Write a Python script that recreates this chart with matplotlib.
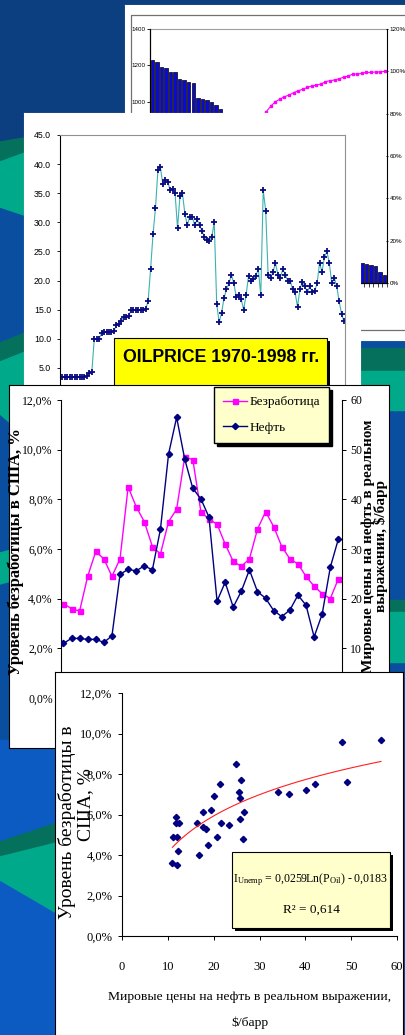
import numpy as np
import matplotlib.pyplot as plt
from matplotlib.patches import Rectangle, Polygon
from matplotlib.transforms import Affine2D

plt.rcParams['font.family'] = ['Liberation Serif', 'DejaVu Serif']
plt.rcParams['mathtext.fontset'] = 'custom'
plt.rcParams['mathtext.rm'] = 'Liberation Serif'
plt.rcParams['mathtext.it'] = 'Liberation Serif:italic'

# --- data -------------------------------------------------------------
# Pareto chart (back panel): bar heights and cumulative share, %
pareto_bars = [1229, 1216, 1192, 1187, 1165, 1161, 1122, 1119, 1106, 1104, 1018, 1014, 1008,
               995, 980, 960, 930, 905, 880, 850, 820, 790, 760, 720, 690, 660, 620, 590, 560,
               520, 490, 450, 420, 390, 360, 330, 300, 280, 260, 240, 220, 200, 180, 160, 140, 125,
               108, 106, 98, 96, 62, 45]
pareto_cum = [4.5, 9.0, 13.3, 17.5, 21.5, 25.4, 29.0, 32.5, 35.9, 39.2, 42.3, 45.3, 48.2,
              51.0, 53.7, 56.3, 58.8, 61.2, 63.6, 66.0, 68.4, 70.8, 73.2, 75.6, 78.2,
              80.9, 83.6, 85.6, 86.9, 88.0, 88.8, 89.9, 90.8, 91.5, 92.4, 93.1, 93.5, 94.0,
              95.1, 95.6, 95.9, 96.5, 97.2, 97.8, 98.7, 98.7, 99.1, 99.5, 99.5, 99.7, 99.7, 100.0]

# Oil price 1970-1998, quarterly, $/bbl
oil_quarterly = [3.4, 3.4, 3.5, 3.5, 3.5, 3.5, 3.5, 3.5, 3.5, 3.5, 3.5, 3.6, 4.2, 4.3,
                 10.0, 10.0, 10.0, 11.0, 11.1, 11.2, 11.2, 11.2, 11.3, 12.3, 12.5, 13.0, 13.8,
                 13.8, 13.9, 14.9, 14.9, 15.0, 15.0, 15.0, 15.0, 15.1,
                 16.5, 22.0, 28.0, 32.5, 39.0, 39.5, 36.5, 37.2, 37.0, 35.5, 35.8, 35.0, 29.0,
                 34.5, 35.0, 31.5, 29.5, 31.0, 31.0, 29.5, 30.5, 29.5, 28.5, 27.5, 27.0, 26.8,
                 27.5, 30.0,
                 16.0, 12.8, 14.5, 17.0, 18.5, 19.5, 21.0, 19.5, 17.2, 17.5, 16.8, 15.0, 17.5,
                 20.8, 20.0, 20.3, 20.8, 22.0, 17.5, 35.5, 32.0, 21.0, 20.5, 21.5, 23.0, 21.0,
                 20.5, 22.0, 21.0, 20.0, 20.0, 18.5, 18.0, 15.5, 18.5, 19.8, 19.0, 18.0, 19.0,
                 18.0, 18.2, 19.5, 23.0, 21.5, 24.0, 25.0, 23.0, 19.5, 20.5, 19.0, 16.5, 14.2, 13.0]

# US unemployment and real oil price, 1967-2001
years = list(range(1967, 2002))
unemployment = [3.8, 3.6, 3.5, 4.9, 5.9, 5.6, 4.9, 5.6, 8.5, 7.7, 7.1, 6.1, 5.8, 7.1, 7.6,
                9.7, 9.6, 7.5, 7.2, 7.0, 6.2, 5.5, 5.3, 5.6, 6.8, 7.5, 6.9, 6.1, 5.6, 5.4,
                4.9, 4.5, 4.2, 4.0, 4.8]
oil_real = [11.0, 12.0, 12.0, 11.8, 11.8, 11.2, 12.5, 24.9, 25.9, 25.6, 26.6, 25.8, 34.0,
            49.1, 56.5, 48.1, 42.2, 40.1, 36.4, 19.5, 23.3, 18.3, 21.5, 25.8, 21.4, 20.1,
            17.6, 16.4, 17.7, 20.7, 18.7, 12.3, 16.9, 26.3, 32.0]

W, H = 405, 1035
fig = plt.figure(figsize=(W / 100, H / 100), dpi=100)
pix = Affine2D().scale(1 / W, -1 / H).translate(0, 1) + fig.transFigure


def box(x0, y0, x1, y1):
    return [x0 / W, 1 - y1 / H, (x1 - x0) / W, (y1 - y0) / H]


def panel(x0, y0, x1, y1, z, edge):
    a = fig.add_axes(box(x0, y0, x1, y1), zorder=z)
    a.set_xticks([])
    a.set_yticks([])
    for s in a.spines.values():
        s.set_edgecolor(edge)
        s.set_linewidth(0.8)
    return a


# --- slide background -------------------------------------------------
bg = fig.add_axes([0, 0, 1, 1], zorder=0)
bg.axis('off')
teal, dkgreen = '#00A98A', '#05705B'
bg.add_patch(Rectangle((0, 0), W, H, color='#0A4F9F', transform=pix))
bg.add_patch(Rectangle((0, 0), W, 140, color='#0B3F80', transform=pix))
bg.add_patch(Rectangle((0, 740), 60, 300, color='#0B5BC3', transform=pix))
for pts, c in [
    ([(0, 142), (30, 137), (30, 151), (0, 162)], dkgreen),
    ([(0, 162), (30, 151), (30, 217), (0, 207)], teal),
    ([(0, 343), (30, 331), (30, 350), (0, 362)], dkgreen),
    ([(0, 362), (30, 350), (30, 440), (0, 414)], teal),
    ([(0, 553), (15, 549), (15, 580), (0, 584)], teal),
    ([(355, 348), (405, 348), (405, 371), (355, 371)], dkgreen),
    ([(355, 371), (405, 371), (405, 410), (355, 410)], teal),
    ([(380, 600), (405, 600), (405, 612), (380, 612)], dkgreen),
    ([(380, 612), (405, 612), (405, 662), (380, 662)], teal),
    ([(0, 842), (60, 822), (60, 842), (0, 857)], dkgreen),
    ([(0, 857), (60, 842), (60, 915), (0, 880)], teal),
]:
    bg.add_patch(Polygon(pts, closed=True, color=c, transform=pix))

# --- panel 1: Pareto chart --------------------------------------------
pn1 = panel(125, 5, 420, 340, 1, 'white')
pn1.add_patch(Rectangle((131, 15), 300, 315, fill=False, ec='#707070', lw=0.9,
                        transform=pix, clip_on=False))
ax1 = fig.add_axes(box(150, 29, 387, 283), zorder=2)
idx = np.arange(len(pareto_bars))
ax1.bar(idx, pareto_bars, width=0.75, color='#0A0AD0', edgecolor='black', linewidth=0.5)
ax1.set_xlim(-0.5, len(pareto_bars) - 0.5)
ax1.set_ylim(0, 1400)
ax1.set_yticks(range(0, 1401, 200))
ax1.set_xticks(np.arange(-0.5, len(pareto_bars), 1.0))
ax1.set_xticklabels([])
ax1.tick_params(axis='x', length=3, width=0.5, direction='out')
ax1.tick_params(axis='y', labelsize=4.5, length=2, width=0.6, pad=1)
for lab in ax1.get_yticklabels():
    lab.set_family('Liberation Sans')
ax1.spines['top'].set_color('#A0A0A0')
ax1.spines['right'].set_visible(False)
ax1b = ax1.twinx()
ax1b.set_zorder(2.5)
ax1b.plot(idx, pareto_cum, color='#FF00FF', marker='s', ms=2, lw=0.8)
ax1b.set_ylim(0, 120)
ax1b.set_yticks(range(0, 121, 20))
ax1b.set_yticklabels([f'{v}%' for v in range(0, 121, 20)], family='Liberation Sans')
ax1b.tick_params(axis='y', labelsize=4.5, length=2, width=0.6, pad=1, direction='inout')
ax1b.spines['top'].set_visible(False)

# --- panel 2: oil price 1970-1998 -------------------------------------
pn2 = panel(24, 113, 360, 400, 3, 'white')
ax2 = fig.add_axes(box(60, 135, 345, 397), zorder=4)
t = 1970 + np.arange(len(oil_quarterly)) / 4
ax2.plot(t, oil_quarterly, color='#3BB3B0', lw=0.8, marker='+', ms=4.5, mew=1.3,
         mec='#0A0A80')
ax2.set_xlim(1970, 1999.1)
ax2.set_ylim(0, 45)
ax2.set_xticks([])
ax2.set_yticks(np.arange(0, 46, 5))
ax2.set_yticklabels([f'{v:.1f}' for v in range(0, 46, 5)], family='Liberation Sans')
ax2.tick_params(axis='y', labelsize=6.3, length=2.5, width=0.6, pad=4)
ax2.spines['top'].set_color('#909090')
ax2.spines['right'].set_color('#909090')
ax2.add_patch(Rectangle((117, 341), 213, 60, fc='black', transform=pix, clip_on=False))
ax2.add_patch(Rectangle((114, 338), 213, 60, fc='#FFFF00', ec='black', lw=0.8,
                        transform=pix, clip_on=False))
ax2.text(221, 357, 'OILPRICE 1970-1998 гг.', transform=pix, ha='center', va='center',
         fontsize=12.8, fontweight='bold', family='Liberation Sans', clip_on=False)

# --- panel 3: unemployment vs oil over time ---------------------------
pn3 = panel(9, 385, 389, 748, 5, 'black')
ax3 = fig.add_axes(box(61, 400, 342, 698), zorder=6)
xi = np.arange(len(years))
l1, = ax3.plot(xi, np.array(unemployment) / 100, color='#FF00FF', marker='s', ms=3.6, lw=1)
ax3.set_xlim(-0.3, len(years) - 0.55)
ax3.set_ylim(0, 0.12)
ax3.set_yticks(np.arange(0, 0.121, 0.02))
ax3.set_yticklabels([f'{v:.1f}%'.replace('.', ',') for v in np.arange(0, 12.1, 2)])
ax3.set_xticks([])
ax3.tick_params(axis='y', labelsize=8.5, length=3, width=0.7, pad=3)
for s in ['top', 'bottom', 'right']:
    ax3.spines[s].set_visible(False)
ax3b = ax3.twinx()
ax3b.set_zorder(6.5)
l2, = ax3b.plot(xi, oil_real, color='#000080', marker='D', ms=3.2, lw=1)
ax3b.set_ylim(0, 60)
ax3b.set_yticks(range(10, 61, 10))
ax3b.tick_params(axis='y', labelsize=8.5, length=3, width=0.7, pad=3)
for s in ['top', 'bottom', 'left']:
    ax3b.spines[s].set_visible(False)
ax3b.legend([l1, l2], ['Безработица', 'Нефть'], loc='upper left',
            bbox_to_anchor=(214, 387), bbox_transform=pix, borderaxespad=0,
            fancybox=False, shadow={'color': 'black', 'alpha': 1}, framealpha=1,
            facecolor='#FFFFCC', edgecolor='black', fontsize=9.5, handlelength=1.8,
            handletextpad=0.2, borderpad=0.7, labelspacing=1.0)
ax3.text(16, 552, 'Уровень безработицы в США, %', transform=pix, rotation=90,
         ha='center', va='center', fontsize=12, fontweight='bold', clip_on=False)
ax3b.text(375, 546, 'Мировые цены на нефть в реальном\nвыражении, $/барр', transform=pix,
          rotation=90, ha='center', va='center', fontsize=11, fontweight='bold',
          linespacing=0.95, multialignment='center', clip_on=False)

# --- panel 4: scatter unemployment vs oil price -----------------------
pn4 = panel(55, 672, 403, 1040, 7, 'black')
ax4 = fig.add_axes(box(122, 693, 397, 936), zorder=8)
ax4.plot(oil_real[:-1], np.array(unemployment[1:]) / 100, linestyle='none', marker='D',
         ms=3.2, color='#000080')
xs = np.linspace(min(oil_real), max(oil_real), 100)
ax4.plot(xs, 0.0259 * np.log(xs) - 0.0183, color='#FF2020', lw=0.8)
ax4.set_xlim(0, 60)
ax4.set_ylim(0, 0.12)
ax4.set_xticks(range(0, 61, 10))
ax4.set_yticks(np.arange(0, 0.121, 0.02))
ax4.set_yticklabels([f'{v:.1f}%'.replace('.', ',') for v in np.arange(0, 12.1, 2)])
ax4.tick_params(axis='y', labelsize=9, length=3, width=0.7, pad=4)
ax4.tick_params(axis='x', labelsize=9, length=3, width=0.7, pad=15)
ax4.spines['top'].set_visible(False)
ax4.spines['right'].set_visible(False)
ax4.text(250, 997, 'Мировые цены на нефть в реальном выражении,', transform=pix,
         ha='center', va='center', fontsize=9.7, clip_on=False)
ax4.text(250, 1023, '$/барр', transform=pix, ha='center', va='center', fontsize=9.7,
         clip_on=False)
ax4.text(67, 822, 'Уровень безработицы в', transform=pix, rotation=90, ha='center',
         va='center', fontsize=14, clip_on=False)
ax4.text(86, 805, 'США, %', transform=pix, rotation=90, ha='center', va='center',
         fontsize=14, clip_on=False)
ax4.add_patch(Rectangle((235, 855), 158, 76, fc='black', transform=pix, clip_on=False))
ax4.add_patch(Rectangle((232, 852), 158, 76, fc='#FFFFCC', ec='black', lw=0.8,
                        transform=pix, clip_on=False))
ax4.text(311, 880, r'I$_{\rm Unemp}$ = 0,0259Ln(P$_{\rm Oil}$) - 0,0183', transform=pix,
         ha='center', va='center', fontsize=8.6, clip_on=False)
ax4.text(311, 910, 'R² = 0,614', transform=pix, ha='center', va='center', fontsize=9.5,
         clip_on=False)

fig.savefig('out.png', dpi=100)
